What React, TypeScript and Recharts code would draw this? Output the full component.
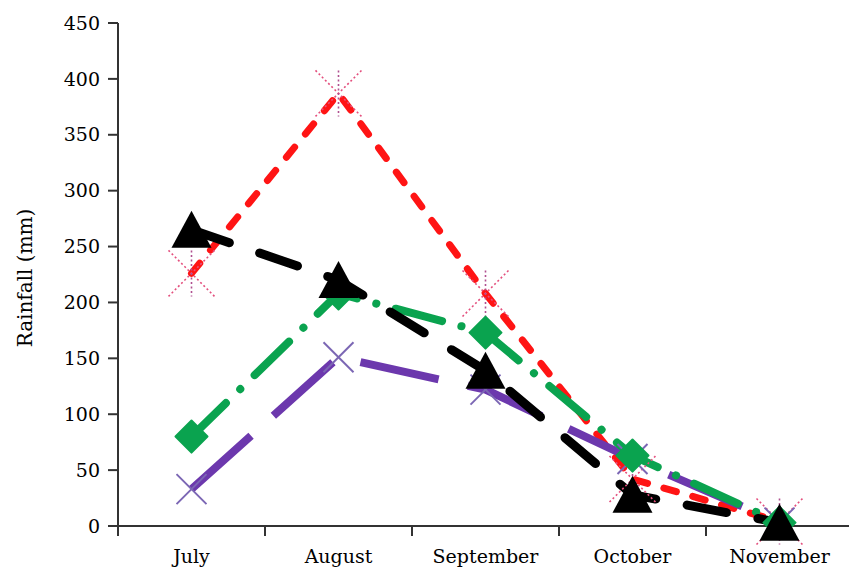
import React from "react";
import { LineChart, Line, XAxis, YAxis } from "recharts";

const months = ["July", "August", "September", "October", "November"];
const redRain = [226, 387, 208, 42, 4];
const purpleRain = [33, 151, 122, 60, 3];
const greenRain = [80, 208, 173, 63, 3];
const blackRain = [265, 220, 139, 28, 3];
const yTicks = [0, 50, 100, 150, 200, 250, 300, 350, 400, 450];
const xTicks = [0, 0.5, 1, 1.5, 2, 2.5, 3, 3.5, 4, 4.5, 5];

const data = months.map((m, i) => ({
  pos: i + 0.5,
  month: m,
  red: redRain[i],
  purple: purpleRain[i],
  green: greenRain[i],
  black: blackRain[i],
}));

const FONT = "DejaVu Serif";

const XTick = (props: any) => {
  const { x, y, payload } = props;
  const v = payload.value;
  if (Number.isInteger(v)) {
    return <line x1={x} y1={y} x2={x} y2={y + 10} stroke="#333" strokeWidth={2} />;
  }
  return (
    <text x={x} y={y + 37} textAnchor="middle" fontSize={19} fontFamily={FONT} fill="#000">
      {months[Math.floor(v)]}
    </text>
  );
};

const YTick = (props: any) => {
  const { x, y, payload } = props;
  return (
    <text x={x} y={y} dy="0.35em" textAnchor="end" fontSize={19} fontFamily={FONT} fill="#000">
      {payload.value}
    </text>
  );
};

const StarDot = (props: any) => {
  const { cx, cy, index } = props;
  const r = 23;
  return (
    <g key={"s" + index} stroke="#e4507e" strokeWidth={1.6} strokeDasharray="2 2.5">
      <line x1={cx - r} y1={cy - r} x2={cx + r} y2={cy + r} />
      <line x1={cx - r} y1={cy + r} x2={cx + r} y2={cy - r} />
      <line x1={cx} y1={cy - r} x2={cx} y2={cy + r} stroke="#b05090" />
    </g>
  );
};

const CrossDot = (props: any) => {
  const { cx, cy, index } = props;
  const r = 15;
  return (
    <g key={"c" + index} stroke="#7b66b4" strokeWidth={2}>
      <line x1={cx - r} y1={cy - r} x2={cx + r} y2={cy + r} />
      <line x1={cx - r} y1={cy + r} x2={cx + r} y2={cy - r} />
    </g>
  );
};

const DiamondDot = (props: any) => {
  const { cx, cy, index } = props;
  const r = 16;
  return (
    <polygon
      key={"d" + index}
      points={`${cx},${cy - r} ${cx + r},${cy} ${cx},${cy + r} ${cx - r},${cy}`}
      fill="#0aa34f"
      stroke="#0aa34f"
      strokeWidth={2}
      strokeLinejoin="round"
    />
  );
};

const TriangleDot = (props: any) => {
  const { cx, cy, index } = props;
  return (
    <polygon
      key={"t" + index}
      points={`${cx},${cy - 19} ${cx + 20},${cy + 18} ${cx - 20},${cy + 18}`}
      fill="#000"
    />
  );
};

const YLabel = () => (
  <text
    x={25}
    y={278}
    transform="rotate(-90 25 278)"
    textAnchor="middle"
    dominantBaseline="central"
    fontSize={20}
    fontFamily={FONT}
    fill="#000"
  >
    Rainfall (mm)
  </text>
);

export default function App() {
  return (
    <div
      style={{
        position: "fixed",
        left: 0,
        top: 0,
        width: 849,
        height: 569,
        overflow: "hidden",
        background: "#fff",
        fontFamily: FONT,
      }}
    >
      <LineChart width={870} height={569} data={data} margin={{ top: 23, right: 17, left: 0, bottom: 0 }}>
        <XAxis
          dataKey="pos"
          type="number"
          domain={[0, 5]}
          ticks={xTicks}
          interval={0}
          height={43}
          tickLine={false}
          tickSize={0}
          tickMargin={0}
          tick={<XTick />}
          stroke="#333"
          strokeWidth={2}
        />
        <YAxis
          type="number"
          domain={[0, 450]}
          ticks={yTicks}
          interval={0}
          width={118}
          tickSize={10}
          tickMargin={8}
          stroke="#333"
          strokeWidth={2}
          tick={<YTick />}
          label={{ content: () => <YLabel /> }}
        />
        <Line
          type="linear"
          dataKey="red"
          stroke="#ff1414"
          strokeWidth={7}
          strokeDasharray="13 17"
          strokeLinecap="round"
          dot={(p: any) => <StarDot {...p} key={"s" + p.index} />}
          activeDot={false}
          isAnimationActive={false}
        />
        <Line
          type="linear"
          dataKey="purple"
          stroke="#6c38ad"
          strokeWidth={8}
          strokeDasharray="80 30"
          strokeLinecap="butt"
          dot={(p: any) => <CrossDot {...p} key={"c" + p.index} />}
          activeDot={false}
          isAnimationActive={false}
        />
        <Line
          type="linear"
          dataKey="green"
          stroke="#0aa34f"
          strokeWidth={8}
          strokeDasharray="48 20 0.1 20"
          strokeLinecap="round"
          dot={(p: any) => <DiamondDot {...p} key={"d" + p.index} />}
          activeDot={false}
          isAnimationActive={false}
        />
        <Line
          type="linear"
          dataKey="black"
          stroke="#000"
          strokeWidth={9}
          strokeDasharray="40 32"
          strokeLinecap="round"
          dot={(p: any) => <TriangleDot {...p} key={"t" + p.index} />}
          activeDot={false}
          isAnimationActive={false}
        />
      </LineChart>
    </div>
  );
}
